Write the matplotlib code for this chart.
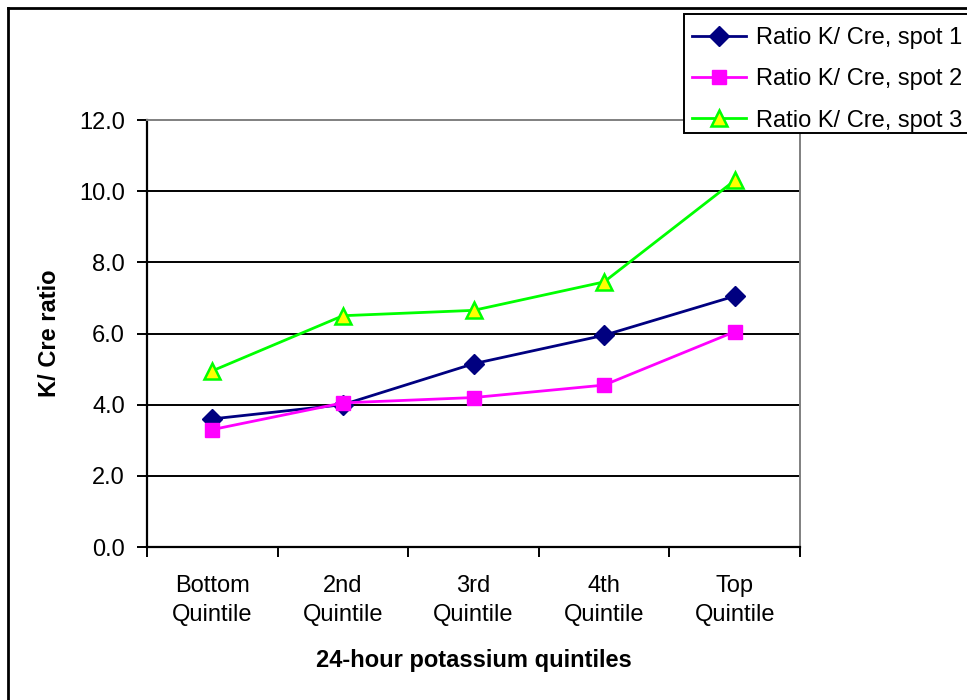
import matplotlib.pyplot as plt
from matplotlib.lines import Line2D
from matplotlib.patches import Rectangle

plt.rcParams['font.family'] = ['Liberation Sans', 'DejaVu Sans']

# data
categories = ['Bottom\nQuintile', '2nd\nQuintile', '3rd\nQuintile', '4th\nQuintile', 'Top\nQuintile']
spot1 = [3.6, 4.0, 5.15, 5.95, 7.05]
spot2 = [3.3, 4.05, 4.2, 4.55, 6.05]
spot3 = [4.95, 6.5, 6.65, 7.45, 10.3]
labels = ['Ratio K/ Cre, spot 1', 'Ratio K/ Cre, spot 2', 'Ratio K/ Cre, spot 3']

fs = 17

fig = plt.figure(figsize=(9.67, 7), dpi=100)
ax = fig.add_axes([147/967, 1-547/700, (800-147)/967, (547-120)/700])

x = list(range(len(categories)))
ax.plot(x, spot1, color='#000080', marker='D', markersize=10, lw=2, label=labels[0], zorder=3)
ax.plot(x, spot2, color='#FF00FF', marker='s', markersize=10, lw=2, label=labels[1], zorder=3)
ax.plot(x, spot3, color='#00FF00', marker='^', markersize=11, markerfacecolor='#FFFF00',
        markeredgecolor='#00FF00', markeredgewidth=1.8, lw=2, label=labels[2], zorder=3)

ax.set_xlim(-0.5, 4.5)
ax.set_ylim(0, 12)
ax.set_yticks([0, 2, 4, 6, 8, 10, 12])
ax.set_yticklabels(['%.1f' % v for v in [0, 2, 4, 6, 8, 10, 12]], fontsize=fs)
for v in [2, 4, 6, 8, 10]:
    ax.axhline(v, color='black', lw=1.4, zorder=1)

ax.set_xticks(x)
ax.set_xticklabels(categories, fontsize=fs, linespacing=1.4)
ax.set_xticks([-0.5, 0.5, 1.5, 2.5, 3.5, 4.5], minor=True)
ax.tick_params(axis='x', which='major', length=0, pad=20)
ax.tick_params(axis='x', which='minor', length=7, width=1.4, direction='out')
ax.tick_params(axis='y', length=7, width=1.4, direction='out', pad=9)

ax.spines['left'].set_linewidth(1.6)
ax.spines['bottom'].set_linewidth(1.6)
ax.spines['top'].set_color('#808080')
ax.spines['right'].set_color('#808080')
ax.spines['top'].set_linewidth(1.4)
ax.spines['right'].set_linewidth(1.4)

fig.text(474/967, 1-660/700, '24-hour potassium quintiles', ha='center', va='center',
         fontsize=fs, fontweight='bold')
fig.text(50/967, 1-333/700, 'K/ Cre ratio', ha='center', va='center', rotation=90,
         fontsize=fs, fontweight='bold')

# legend box (cut off by the right edge, like the original)
ax.add_patch(Rectangle((684/967, 1-133/700), 300/967, 119/700, transform=fig.transFigure,
                       facecolor='white', edgecolor='black', lw=1.4, zorder=6, clip_on=False))
leg = ax.legend(loc='upper left', bbox_to_anchor=(692/967, 1-27/700), bbox_transform=fig.transFigure,
                fontsize=fs, frameon=False, borderaxespad=0, handlelength=2.3,
                handletextpad=0.4, labelspacing=0.82, borderpad=0)
leg.set_zorder(7)

# outer chart border
fig.add_artist(Line2D([8/967, 8/967], [0, 1-8/700], color='black', lw=2, transform=fig.transFigure))
fig.add_artist(Line2D([8/967, 1], [1-8/700, 1-8/700], color='black', lw=2, transform=fig.transFigure))

fig.savefig('out.png', dpi=100)
